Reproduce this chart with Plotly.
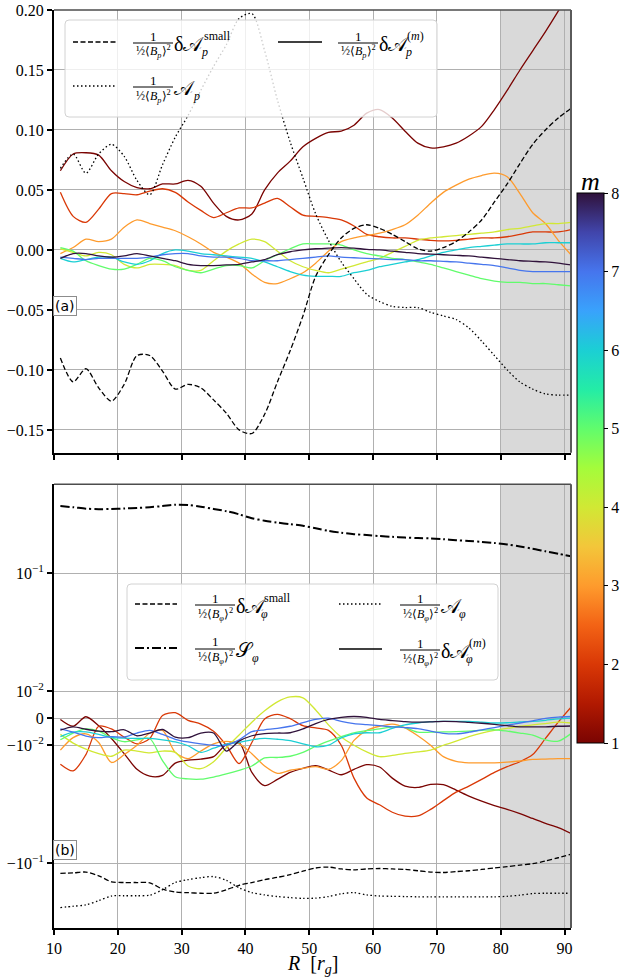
import math
import plotly.graph_objects as go
from plotly.colors import sequential, hex_to_rgb, make_colorscale, sample_colorscale

# ---------------------------------------------------------------- data
R = list(range(11, 92, 2))  # radius [r_g]

# (a) poloidal component, normalised by 1/2 <B_p>^2
Ap_total = [0.068, 0.080, 0.064, 0.080, 0.088, 0.078, 0.058, 0.046, 0.071, 0.094,
            0.112, 0.133, 0.153, 0.171, 0.193, 0.197, 0.166, 0.125, 0.090, 0.060,
            0.030, 0.008, -0.010, -0.024, -0.037, -0.043, -0.047, -0.048, -0.048, -0.052,
            -0.055, -0.058, -0.065, -0.076, -0.088, -0.100, -0.110, -0.116, -0.120, -0.121,
            -0.121]
Ap_small = [-0.090, -0.110, -0.099, -0.115, -0.126, -0.112, -0.088, -0.088, -0.101, -0.116,
            -0.112, -0.115, -0.125, -0.136, -0.150, -0.153, -0.137, -0.110, -0.084, -0.055,
            -0.022, -0.004, 0.010, 0.018, 0.021, 0.018, 0.013, 0.007, 0.001, -0.001,
            0.002, 0.007, 0.015, 0.025, 0.040, 0.055, 0.072, 0.088, 0.100, 0.110,
            0.118]
dAp_m1 = [0.066, 0.080, 0.081, 0.079, 0.066, 0.057, 0.052, 0.051, 0.055, 0.055,
          0.058, 0.053, 0.039, 0.028, 0.025, 0.030, 0.050, 0.064, 0.074, 0.086,
          0.093, 0.098, 0.099, 0.104, 0.114, 0.117, 0.110, 0.099, 0.089, 0.085,
          0.086, 0.089, 0.095, 0.103, 0.117, 0.133, 0.150, 0.166, 0.182, 0.199,
          0.217]
dAp_m2 = [0.048, 0.028, 0.023, 0.034, 0.047, 0.047, 0.046, 0.049, 0.051, 0.048,
          0.040, 0.033, 0.027, 0.031, 0.035, 0.035, 0.039, 0.043, 0.036, 0.029,
          0.028, 0.027, 0.025, 0.020, 0.013, 0.011, 0.010, 0.010, 0.009, 0.008,
          0.0075, 0.008, 0.009, 0.010, 0.010, 0.011, 0.013, 0.015, 0.015, 0.015,
          0.017]
dAp_m3 = [-0.003, 0.002, 0.009, 0.007, 0.009, 0.019, 0.025, 0.022, 0.019, 0.016,
          0.011, 0.005, -0.002, -0.006, -0.011, -0.020, -0.027, -0.028, -0.024, -0.019,
          -0.011, -0.001, 0.007, 0.010, 0.012, 0.014, 0.017, 0.021, 0.029, 0.039,
          0.048, 0.054, 0.059, 0.062, 0.064, 0.061, 0.047, 0.031, 0.022, 0.008,
          -0.004]
dAp_m4 = [0.001, -0.002, -0.005, -0.002, -0.004, -0.012, -0.015, -0.012, -0.012, -0.013,
          -0.017, -0.017, -0.009, -0.001, 0.005, 0.009, 0.007, -0.001, -0.009, -0.014,
          -0.017, -0.019, -0.016, -0.013, -0.010, -0.007, -0.002, 0.003, 0.008, 0.010,
          0.011, 0.012, 0.013, 0.014, 0.015, 0.017, 0.018, 0.020, 0.022, 0.022,
          0.023]
dAp_m5 = [0.002, -0.001, -0.009, -0.013, -0.016, -0.016, -0.012, -0.007, -0.009, -0.014,
          -0.017, -0.019, -0.016, -0.013, -0.013, -0.015, -0.009, -0.004, 0.001, 0.005,
          0.005, 0.005, 0.004, 0.000, -0.003, -0.005, -0.007, -0.008, -0.010, -0.012,
          -0.015, -0.018, -0.021, -0.024, -0.026, -0.027, -0.027, -0.028, -0.028, -0.029,
          -0.030]
dAp_m6 = [-0.007, -0.010, -0.008, -0.006, -0.006, -0.010, -0.012, -0.009, -0.003, 0.000,
          -0.001, -0.003, -0.004, -0.005, -0.006, -0.007, -0.010, -0.014, -0.018, -0.021,
          -0.022, -0.022, -0.022, -0.019, -0.017, -0.014, -0.012, -0.010, -0.008, -0.005,
          -0.002, 0.000, 0.002, 0.003, 0.004, 0.005, 0.005, 0.005, 0.006, 0.006,
          0.006]
dAp_m7 = [-0.006, -0.007, -0.008, -0.007, -0.007, -0.007, -0.007, -0.006, -0.004, -0.003,
          -0.003, -0.005, -0.006, -0.006, -0.007, -0.009, -0.009, -0.009, -0.008, -0.007,
          -0.006, -0.005, -0.006, -0.0065, -0.007, -0.0075, -0.008, -0.008, -0.009, -0.009,
          -0.0095, -0.010, -0.011, -0.012, -0.013, -0.015, -0.017, -0.018, -0.018, -0.018,
          -0.018]
dAp_m8 = [-0.007, -0.003, -0.003, -0.005, -0.006, -0.005, -0.003, -0.005, -0.007, -0.009,
          -0.012, -0.013, -0.013, -0.0125, -0.012, -0.010, -0.008, -0.004, -0.0015, 0.000,
          0.001, 0.0015, 0.002, 0.0015, 0.0005, 0.000, -0.001, -0.002, -0.003, -0.0035,
          -0.004, -0.0045, -0.005, -0.006, -0.007, -0.008, -0.009, -0.0095, -0.010, -0.011,
          -0.0125]

# (b) toroidal component, normalised by 1/2 <B_phi>^2
S_phi = [0.370, 0.362, 0.352, 0.348, 0.350, 0.353, 0.357, 0.362, 0.370, 0.380,
         0.378, 0.366, 0.350, 0.335, 0.315, 0.292, 0.278, 0.268, 0.260, 0.252,
         0.240, 0.228, 0.220, 0.214, 0.210, 0.206, 0.203, 0.200, 0.198, 0.197,
         0.194, 0.190, 0.187, 0.184, 0.180, 0.175, 0.168, 0.161, 0.153, 0.146,
         0.139]
Aphi_small = [-0.122, -0.121, -0.119, -0.128, -0.144, -0.146, -0.146, -0.147, -0.166, -0.176,
              -0.178, -0.180, -0.180, -0.168, -0.154, -0.146, -0.138, -0.132, -0.125, -0.117,
              -0.110, -0.108, -0.112, -0.114, -0.112, -0.111, -0.112, -0.113, -0.116, -0.119,
              -0.120, -0.118, -0.116, -0.113, -0.110, -0.107, -0.104, -0.101, -0.096, -0.090,
              -0.084]
Aphi_total = [-0.238, -0.232, -0.226, -0.208, -0.190, -0.189, -0.189, -0.187, -0.168, -0.146,
              -0.138, -0.133, -0.130, -0.140, -0.162, -0.178, -0.186, -0.192, -0.196, -0.199,
              -0.198, -0.192, -0.182, -0.178, -0.186, -0.190, -0.191, -0.192, -0.193, -0.193,
              -0.193, -0.193, -0.193, -0.193, -0.193, -0.191, -0.187, -0.181, -0.180, -0.180,
              -0.180]
dAphi_m1 = [-0.0005, -0.0030, 0.0005, -0.0028, -0.0075, -0.0118, -0.0160, -0.0183, -0.0180, -0.0142,
            -0.0134, -0.0131, -0.0125, -0.0097, -0.0090, -0.0170, -0.0220, -0.0195, -0.0170, -0.0157,
            -0.0149, -0.0162, -0.0178, -0.0160, -0.0146, -0.0153, -0.0190, -0.0222, -0.0228, -0.0215,
            -0.0216, -0.0240, -0.0270, -0.0298, -0.0325, -0.0350, -0.0380, -0.0418, -0.0460, -0.0500,
            -0.0560]
dAphi_m2 = [-0.0145, -0.0165, -0.0120, -0.0030, -0.0040, -0.0070, -0.0095, -0.0075, 0.0010, 0.0020,
            -0.0008, -0.0022, -0.0048, -0.0100, -0.0143, -0.0090, -0.0003, 0.0014, -0.0002, -0.0028,
            -0.0036, -0.0045, -0.0100, -0.0190, -0.0280, -0.0320, -0.0370, -0.0400, -0.0398, -0.0350,
            -0.0295, -0.0250, -0.0222, -0.0195, -0.0170, -0.0152, -0.0138, -0.0120, -0.0075, -0.0015,
            0.0040]
dAphi_m3 = [-0.0110, -0.0072, -0.0058, -0.0090, -0.0140, -0.0120, -0.0100, -0.0056, -0.0045, -0.0115,
            -0.0130, -0.0112, -0.0095, -0.0086, -0.0095, -0.0118, -0.0150, -0.0173, -0.0163, -0.0157,
            -0.0152, -0.0160, -0.0135, -0.0082, -0.0045, -0.0030, -0.0022, -0.0036, -0.0065, -0.0100,
            -0.0125, -0.0137, -0.0141, -0.0141, -0.0141, -0.0139, -0.0136, -0.0132, -0.0131, -0.0130,
            -0.0130]
dAphi_m4 = [-0.0060, -0.0092, -0.0108, -0.0118, -0.0124, -0.0110, -0.0112, -0.0116, -0.0112, -0.0115,
            -0.0150, -0.0158, -0.0138, -0.0105, -0.0062, -0.0015, 0.0027, 0.0060, 0.0078, 0.0075,
            0.0030, -0.0025, -0.0070, -0.0100, -0.0114, -0.0125, -0.0122, -0.0117, -0.0114, -0.0110,
            -0.0100, -0.0085, -0.0068, -0.0055, -0.0045, -0.0038, -0.0030, -0.0025, -0.0020, -0.0015,
            -0.0018]
dAphi_m5 = [-0.0080, -0.0055, -0.0040, -0.0048, -0.0072, -0.0087, -0.0080, -0.0075, -0.0135, -0.0185,
            -0.0193, -0.0194, -0.0186, -0.0175, -0.0163, -0.0150, -0.0128, -0.0127, -0.0124, -0.0115,
            -0.0102, -0.0085, -0.0068, -0.0054, -0.0046, -0.0040, -0.0032, -0.0035, -0.0052, -0.0052,
            -0.0051, -0.0050, -0.0048, -0.0045, -0.0043, -0.0048, -0.0055, -0.0063, -0.0080, -0.0085,
            -0.0057]
dAphi_m6 = [-0.0068, -0.0052, -0.0051, -0.0060, -0.0071, -0.0074, -0.0075, -0.0075, -0.0080, -0.0088,
            -0.0101, -0.0115, -0.0106, -0.0096, -0.0090, -0.0080, -0.0075, -0.0078, -0.0083, -0.0095,
            -0.0103, -0.0100, -0.0073, -0.0058, -0.0054, -0.0054, -0.0038, -0.0025, -0.0018, -0.0013,
            -0.0012, -0.0012, -0.0012, -0.0015, -0.0018, -0.0017, -0.0014, -0.0012, -0.0008, -0.0003,
            0.0000]
dAphi_m7 = [-0.0040, -0.0052, -0.0066, -0.0072, -0.0068, -0.0070, -0.0055, -0.0045, -0.0060, -0.0078,
            -0.0088, -0.0095, -0.0100, -0.0100, -0.0080, -0.0050, -0.0043, -0.0038, -0.0030, -0.0017,
            -0.0005, 0.0000, -0.0012, -0.0020, -0.0024, -0.0028, -0.0032, -0.0035, -0.0039, -0.0048,
            -0.0056, -0.0058, -0.0052, -0.0043, -0.0035, -0.0026, -0.0018, -0.0010, -0.0001, 0.0004,
            0.0006]
dAphi_m8 = [-0.0044, -0.0032, -0.0041, -0.0048, -0.0050, -0.0043, -0.0065, -0.0055, -0.0042, -0.0070,
            -0.0072, -0.0055, -0.0055, -0.0112, -0.0085, -0.0065, -0.0057, -0.0055, -0.0054, -0.0040,
            -0.0020, -0.0005, 0.0003, 0.0006, 0.0003, -0.0005, -0.0009, -0.0013, -0.0015, -0.0014,
            -0.0012, -0.0013, -0.0016, -0.0019, -0.0023, -0.0028, -0.0032, -0.0032, -0.0032, -0.0030,
            -0.0029]

M = [1, 2, 3, 4, 5, 6, 7, 8]
dAp_modes = [dAp_m1, dAp_m2, dAp_m3, dAp_m4, dAp_m5, dAp_m6, dAp_m7, dAp_m8]
dAphi_modes = [dAphi_m1, dAphi_m2, dAphi_m3, dAphi_m4, dAphi_m5, dAphi_m6, dAphi_m7, dAphi_m8]

X_TICKS = [10, 20, 30, 40, 50, 60, 70, 80, 90]
YA_TICKS = [0.20, 0.15, 0.10, 0.05, 0.0, -0.05, -0.10, -0.15]
YA_TEXT = ["0.20", "0.15", "0.10", "0.05", "0.00", "\u22120.05", "\u22120.10", "\u22120.15"]
YB_TICKS = [0.1, 0.01, 0.0, -0.01, -0.1]
YB_TEXT = ["10<sup>\u22121</sup>", "10<sup>\u22122</sup>", "0",
           "\u221210<sup>\u22122</sup>", "\u221210<sup>\u22121</sup>"]

# ---------------------------------------------------------------- helpers
W, H = 620, 979
ML, MR, MT, MB = 54, 49, 10, 51
PW, PH = W - ML - MR, H - MT - MB
SERIF = "Liberation Serif"


def fx(p):
    """page pixel x -> paper"""
    return (p - ML) / PW


def fy(p):
    """page pixel y -> paper"""
    return (H - MB - p) / PH


LIN, LINSPAN = 0.01, 0.23


def symlog(v):
    if abs(v) <= LIN:
        return v / LIN * LINSPAN
    return math.copysign(LINSPAN + math.log10(abs(v) / LIN), v)


turbo_r = make_colorscale([f"rgb{hex_to_rgb(c)}" for c in sequential.Turbo[::-1]])
mode_colors = sample_colorscale(turbo_r, [(m - 1) / 7 for m in M])

DASH = "5px,2.5px"
DOT = "1.5px,2.5px"
DASHDOT = "9px,3px,2px,3px"

fig = go.Figure()

# ---------------------------------------------------------------- panel (a)
for m, ys, col in zip(M, dAp_modes, mode_colors):
    fig.add_trace(go.Scatter(x=R, y=ys, mode="lines", line=dict(color=col, width=1.3, shape="spline", smoothing=0.8),
                             xaxis="x", yaxis="y", showlegend=False))
fig.add_trace(go.Scatter(x=R, y=Ap_small, mode="lines",
                         line=dict(color="black", width=1.3, dash=DASH, shape="spline", smoothing=0.8),
                         xaxis="x", yaxis="y", showlegend=False))
fig.add_trace(go.Scatter(x=R, y=Ap_total, mode="lines",
                         line=dict(color="black", width=1.3, dash=DOT, shape="spline", smoothing=0.8),
                         xaxis="x", yaxis="y", showlegend=False))

# ---------------------------------------------------------------- panel (b), symmetric-log axis
for m, ys, col in zip(M, dAphi_modes, mode_colors):
    fig.add_trace(go.Scatter(x=R, y=[symlog(v) for v in ys], mode="lines",
                             line=dict(color=col, width=1.3, shape="spline", smoothing=0.8),
                             xaxis="x2", yaxis="y2", showlegend=False))
fig.add_trace(go.Scatter(x=R, y=[symlog(v) for v in Aphi_small], mode="lines",
                         line=dict(color="black", width=1.3, dash=DASH, shape="spline", smoothing=0.8),
                         xaxis="x2", yaxis="y2", showlegend=False))
fig.add_trace(go.Scatter(x=R, y=[symlog(v) for v in Aphi_total], mode="lines",
                         line=dict(color="black", width=1.3, dash=DOT, shape="spline", smoothing=0.8),
                         xaxis="x2", yaxis="y2", showlegend=False))
fig.add_trace(go.Scatter(x=R, y=[symlog(v) for v in S_phi], mode="lines",
                         line=dict(color="black", width=2, dash=DASHDOT, shape="spline", smoothing=0.8),
                         xaxis="x2", yaxis="y2", showlegend=False))

# colour bar for the azimuthal mode number
fig.add_trace(go.Scatter(
    x=[None], y=[None], mode="markers", xaxis="x", yaxis="y", showlegend=False,
    marker=dict(color=[1], cmin=1, cmax=8, colorscale=turbo_r, showscale=True,
                colorbar=dict(x=fx(577), xanchor="left", xpad=0, ypad=0,
                              y=fy(468), yanchor="middle", len=550, lenmode="pixels",
                              thickness=27, thicknessmode="pixels",
                              outlinewidth=1, outlinecolor="black",
                              tickvals=M, ticks="outside", ticklen=4, tickcolor="black",
                              tickfont=dict(family=SERIF, size=16, color="black")))))

# ---------------------------------------------------------------- axes
axis_common = dict(showline=True, linecolor="black", linewidth=2, ticks="outside", ticklen=5,
                   tickwidth=1.5, tickcolor="black", showgrid=True, gridcolor="#b0b0b0",
                   gridwidth=1.3, zeroline=False,
                   tickfont=dict(family=SERIF, size=16, color="black"))
TOP_LO = fy(452.7)
BOT_HI = fy(484.3)
fig.update_layout(
    width=W, height=H, margin=dict(l=ML, r=MR, t=MT, b=MB, autoexpand=False),
    plot_bgcolor="white", paper_bgcolor="white",
    font=dict(family=SERIF, color="black"),
    xaxis=dict(axis_common, domain=[0, 1], anchor="y", range=[10, 91], tickvals=X_TICKS,
               showticklabels=False),
    xaxis2=dict(axis_common, domain=[0, 1], anchor="y2", range=[10, 91], tickvals=X_TICKS,
                matches="x"),
    yaxis=dict(axis_common, domain=[TOP_LO, 1], anchor="x", range=[-0.169, 0.2],
               tickvals=YA_TICKS, ticktext=YA_TEXT),
    yaxis2=dict(axis_common, domain=[0, BOT_HI], anchor="x2", range=[-1.780, 1.983],
                tickvals=[symlog(v) for v in YB_TICKS], ticktext=YB_TEXT),
)

shapes = []
annotations = []

# outer-disc region
for xr, yr in (("x", "y domain"), ("x2", "y2 domain")):
    shapes.append(dict(type="rect", xref=xr, yref=yr, x0=80, x1=91, y0=0, y1=1,
                       fillcolor="#d9d9d9", line=dict(width=0), layer="below"))

# top / right frame lines
for lo, hi in ((TOP_LO, 1), (0, BOT_HI)):
    shapes.append(dict(type="line", xref="paper", yref="paper", x0=0, x1=1, y0=hi, y1=hi,
                       line=dict(color="#4d4d4d", width=1.5)))
    shapes.append(dict(type="line", xref="paper", yref="paper", x0=1, x1=1, y0=lo, y1=hi,
                       line=dict(color="#5a5a5a", width=2)))


def rounded_box(x0, y0, x1, y1, r=4):
    pts = (f"M {fx(x0 + r)},{fy(y0)} L {fx(x1 - r)},{fy(y0)} Q {fx(x1)},{fy(y0)} {fx(x1)},{fy(y0 + r)} "
           f"L {fx(x1)},{fy(y1 - r)} Q {fx(x1)},{fy(y1)} {fx(x1 - r)},{fy(y1)} "
           f"L {fx(x0 + r)},{fy(y1)} Q {fx(x0)},{fy(y1)} {fx(x0)},{fy(y1 - r)} "
           f"L {fx(x0)},{fy(y0 + r)} Q {fx(x0)},{fy(y0)} {fx(x0 + r)},{fy(y0)} Z")
    return dict(type="path", xref="paper", yref="paper", path=pts,
                fillcolor="rgba(255,255,255,0.8)", line=dict(color="#d2d2d2", width=1), layer="above")


def text(x, y, s, size, xanchor="left", family=SERIF):
    annotations.append(dict(x=fx(x), y=fy(y), xref="paper", yref="paper", text=s, showarrow=False,
                            xanchor=xanchor, yanchor="middle", font=dict(family=family, size=size, color="black")))


def entry(lx0, lx1, y0, dash, lw, bar0, comp, body, sub_x, sup=None, sup_x=None):
    shapes.append(dict(type="line", xref="paper", yref="paper", x0=fx(lx0), x1=fx(lx1), y0=fy(y0), y1=fy(y0),
                       line=dict(color="black", width=lw, dash=dash), layer="above"))
    shapes.append(dict(type="line", xref="paper", yref="paper", x0=fx(bar0), x1=fx(bar0 + 40),
                       y0=fy(y0 + 1), y1=fy(y0 + 1), line=dict(color="black", width=1), layer="above"))
    text(bar0 + 20, y0 - 6, "1", 13, "center")
    text(bar0 + 20, y0 + 10, f"\u00bd\u27e8<i>B</i><sub><i>{comp}</i></sub>\u27e9<sup>2</sup>", 12, "center")
    text(bar0 + 39, y0 + 2, body, 20)
    text(sub_x, y0 + 10, f"<i>{comp}</i>", 12)
    if sup:
        text(sup_x, y0 - 6, sup, 12)


# legend of panel (a)
shapes.append(rounded_box(65, 20, 437, 117))
entry(73, 117, 42, DASH, 1.3, 133, "p", "\u03b4\U0001d49c", 199, "small", 202)
entry(73, 117, 86, DOT, 1.3, 133, "p", "\U0001d49c", 191)
entry(278, 322, 42, "solid", 1.3, 338, "p", "\u03b4\U0001d49c", 403, "(<i>m</i>)", 405)

# legend of panel (b)
shapes.append(rounded_box(127, 584, 498, 680))
entry(135, 177, 604, DASH, 1.3, 195, "\u03c6", "\u03b4\U0001d49c", 259, "small", 262)
entry(135, 177, 648, DASHDOT, 2, 195, "\u03c6", "\U0001d4ae", 250)
entry(339, 382, 604, DOT, 1.3, 400, "\u03c6", "\U0001d49c", 457)
entry(339, 382, 649, "solid", 1.3, 400, "\u03c6", "\u03b4\U0001d49c", 464, "(<i>m</i>)", 467)

# panel tags
for lab, yc in (("(a)", 306), ("(b)", 849.5)):
    annotations.append(dict(x=fx(64.5), y=fy(yc), xref="paper", yref="paper", text=lab, showarrow=False,
                            xanchor="center", yanchor="middle", bgcolor="white", bordercolor="#8c8c8c",
                            borderwidth=1, borderpad=1,
                            font=dict(family="DejaVu Sans", size=14, color="black")))

# axis title and colour-bar label
text(312.5, 965, "<i>R</i>  [<i>r<sub>g</sub></i>]", 20, "center")
text(590, 181, "<i>m</i>", 26, "center")

fig.update_layout(shapes=shapes, annotations=annotations)
fig.write_html("out.html")
